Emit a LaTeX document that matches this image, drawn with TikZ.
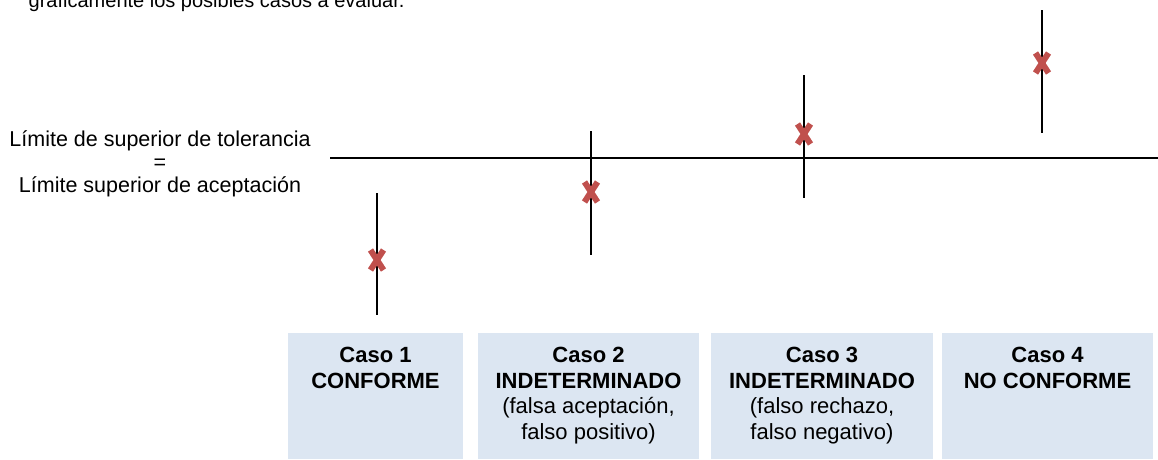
\documentclass[tikz,border=0pt]{standalone}
\usepackage{fontspec}
\setmainfont{Liberation Sans}
\usetikzlibrary{positioning}
\definecolor{markred}{HTML}{C0504D}
\definecolor{cajaazul}{HTML}{DCE6F2}
\tikzset{
    bar/.style={line width=2pt},
    markx/.style={line width=6pt, markred},
    caja/.style={fill=cajaazul, anchor=north, minimum height=126pt, inner sep=0pt},
    cajatexto/.style={align=center, inner sep=0pt, font=\fontsize{22}{25.7}\selectfont},
    rotulo/.style={align=center, font=\fontsize{21.5}{23}\selectfont}
}

\begin{document}
\begin{tikzpicture}[x=1pt,y=-1pt]
    \useasboundingbox (0,0) rectangle (1158,459);
    \clip (0,0) rectangle (1158,459);
    \node[rotulo, font=\fontsize{20}{23}\selectfont, anchor=base east] (intro) at (408,7) {gr\'aficamente los posibles casos a evaluar.};
    \node[rotulo, anchor=base] (lsa) at (160,192) {L\'imite de superior de tolerancia\\=\\L\'imite superior de aceptaci\'on};
    % limite superior
    \coordinate (lsa-a) at (330,158);
    \coordinate (lsa-b) at (1158,158);
    \draw[bar] (lsa-a) -- (lsa-b);
    % barras de incertidumbre
    \coordinate (x1) at (377,260);
    \coordinate (x2) at (591,192);
    \coordinate (x3) at (804,134);
    \coordinate (x4) at (1042,63);
    \draw[bar] ([yshift=67pt]x1) -- ([yshift=-55pt]x1);
    \draw[bar] ([yshift=61pt]x2) -- ([yshift=-63pt]x2);
    \draw[bar] ([yshift=59pt]x3) -- ([yshift=-64pt]x3);
    \draw[bar] ([yshift=53pt]x4) -- ([yshift=-70pt]x4);
    \draw[markx] ([shift={(-6.5,-10)}]x1) -- ([shift={(6.5,10)}]x1);
    \draw[markx] ([shift={(-6.5,10)}]x1) -- ([shift={(6.5,-10)}]x1);
    \draw[markx] ([shift={(-6.5,-10)}]x2) -- ([shift={(6.5,10)}]x2);
    \draw[markx] ([shift={(-6.5,10)}]x2) -- ([shift={(6.5,-10)}]x2);
    \draw[markx] ([shift={(-6.5,-10)}]x3) -- ([shift={(6.5,10)}]x3);
    \draw[markx] ([shift={(-6.5,10)}]x3) -- ([shift={(6.5,-10)}]x3);
    \draw[markx] ([shift={(-6.5,-10)}]x4) -- ([shift={(6.5,10)}]x4);
    \draw[markx] ([shift={(-6.5,10)}]x4) -- ([shift={(6.5,-10)}]x4);
    % casos
    \node[caja, minimum width=175pt] (caso1) at (375.5,333) {};
    \node[caja, minimum width=221pt] (caso2) at (588.5,333) {};
    \node[caja, minimum width=222pt] (caso3) at (822,333) {};
    \node[caja, minimum width=211pt] (caso4) at (1047.5,333) {};
    \node[cajatexto, below=14pt of caso1.north] (texto1) {\textbf{Caso 1}\\\textbf{CONFORME}};
    \node[cajatexto, below=14pt of caso2.north] (texto2) {\textbf{Caso 2}\\\textbf{INDETERMINADO}\\(falsa aceptaci\'on,\\falso positivo)};
    \node[cajatexto, below=14pt of caso3.north] (texto3) {\textbf{Caso 3}\\\textbf{INDETERMINADO}\\(falso rechazo,\\falso negativo)};
    \node[cajatexto, below=14pt of caso4.north] (texto4) {\textbf{Caso 4}\\\textbf{NO CONFORME}};
\end{tikzpicture}
\end{document}
